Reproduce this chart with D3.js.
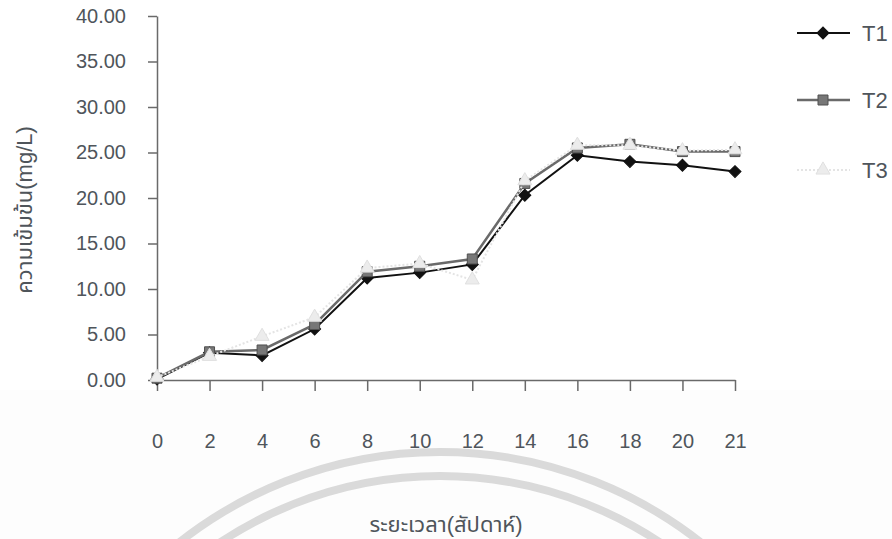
<!DOCTYPE html>
<html>
<head>
<meta charset="utf-8">
<script src="https://cdn.jsdelivr.net/npm/d3@7/dist/d3.min.js"></script>
<style>
  html, body { margin: 0; padding: 0; background: #ffffff; }
  svg { display: block; }
  text { font-family: "Liberation Sans", Arial, "Noto Sans Thai", "Loma", "Garuda", sans-serif; fill: #4f555b; }
</style>
</head>
<body>
<svg id="chart" width="892" height="539"></svg>
<script>
// ---- data ----
const weeks = ["0", "2", "4", "6", "8", "10", "12", "14", "16", "18", "20", "21"];
const seriesNames = ["T1", "T2", "T3"];
const t1 = [0.1, 3.0, 2.7, 5.6, 11.2, 11.8, 12.7, 20.3, 24.7, 24.0, 23.6, 22.9];
const t2 = [0.2, 3.1, 3.3, 6.1, 11.9, 12.5, 13.3, 21.6, 25.5, 25.9, 25.1, 25.1];
const t3 = [0.3, 2.6, 4.8, 6.9, 12.3, 12.8, 11.0, 21.9, 25.8, 25.8, 25.2, 25.3];
const yTicks = [0, 5, 10, 15, 20, 25, 30, 35, 40];
const yTitle = "ความเข้มข้น(mg/L)";
const xTitle = "ระยะเวลา(สัปดาห์)";

const svg = d3.select("#chart");

// faint page band and watermark
svg.append("rect").attr("x", 0).attr("y", 390).attr("width", 892).attr("height", 149).attr("fill", "#fdfdfd");
const wm = svg.append("g").attr("fill", "none").attr("stroke", "#dadada").attr("stroke-width", 8);
wm.append("circle").attr("cx", 440).attr("cy", 873).attr("r", 421);
wm.append("circle").attr("cx", 440).attr("cy", 873).attr("r", 397);

const x = d3.scalePoint().domain(weeks).range([157, 735]);
const y = d3.scaleLinear().domain([0, 40]).range([380, 16]);

// axes
const yAxis = svg.append("g").attr("transform", "translate(157,0)")
  .call(d3.axisLeft(y).tickValues(yTicks).tickFormat(d3.format(".2f")).tickSize(9).tickSizeOuter(0).tickPadding(22));
yAxis.selectAll("text").style("font-size", "20px").attr("fill", "#4f555b");
yAxis.selectAll("line").attr("stroke", "#6a6a6a").attr("stroke-width", 1.5);
yAxis.select(".domain").attr("stroke", "#6a6a6a").attr("stroke-width", 1.5);

const xAxis = svg.append("g").attr("transform", "translate(0,380)")
  .call(d3.axisBottom(x).tickSize(11).tickSizeOuter(0));
xAxis.selectAll("text").style("font-size", "20px").attr("y", 54).attr("fill", "#4f555b");
xAxis.selectAll("line").attr("stroke", "#6a6a6a").attr("stroke-width", 1.5);
xAxis.select(".domain").attr("stroke", "#6a6a6a").attr("stroke-width", 1.5);

// titles
svg.append("text").attr("transform", "translate(26,210) rotate(-90)")
  .attr("text-anchor", "middle").attr("dominant-baseline", "middle")
  .style("font-size", "22px").text(yTitle);
svg.append("text").attr("x", 446).attr("y", 532).attr("text-anchor", "middle")
  .style("font-size", "22px").text(xTitle);

// series styles
const styles = [
  { data: t1, stroke: "#111111", width: 2, dash: null, sym: d3.symbolSquare, rot: 45, size: 72, fill: "#111111", mstroke: "#111111" },
  { data: t2, stroke: "#6a6a6a", width: 2.5, dash: null, sym: d3.symbolSquare, rot: 0, size: 100, fill: "#777777", mstroke: "#505050" },
  { data: t3, stroke: "#e4e4e4", width: 2, dash: "2,2", sym: d3.symbolTriangle, rot: 0, size: 85, fill: "#ececec", mstroke: "#e0e0e0" }
];

const line = d3.line().x((d, i) => x(weeks[i])).y(d => y(d));

styles.forEach((s, k) => {
  const g = svg.append("g");
  g.append("path").datum(s.data).attr("d", line).attr("fill", "none")
    .attr("stroke", s.stroke).attr("stroke-width", s.width)
    .attr("stroke-dasharray", s.dash);
  g.selectAll("path.m").data(s.data).join("path").attr("class", "m")
    .attr("transform", (d, i) => `translate(${x(weeks[i])},${y(d)}) rotate(${s.rot})`)
    .attr("d", d3.symbol().type(s.sym).size(s.size))
    .attr("fill", s.fill).attr("stroke", s.mstroke).attr("stroke-width", 1);
});

// legend
const legY = [33, 100, 170];
styles.forEach((s, k) => {
  const g = svg.append("g").attr("transform", `translate(0,${legY[k]})`);
  g.append("line").attr("x1", 797).attr("x2", 850).attr("y1", 0).attr("y2", 0)
    .attr("stroke", s.stroke).attr("stroke-width", s.width).attr("stroke-dasharray", s.dash);
  g.append("path").attr("transform", `translate(823,0) rotate(${s.rot})`)
    .attr("d", d3.symbol().type(s.sym).size(s.size))
    .attr("fill", s.fill).attr("stroke", s.mstroke).attr("stroke-width", 1);
  g.append("text").attr("x", 862).attr("y", 0).attr("dominant-baseline", "central")
    .style("font-size", "22px").text(seriesNames[k]);
});
</script>
</body>
</html>
